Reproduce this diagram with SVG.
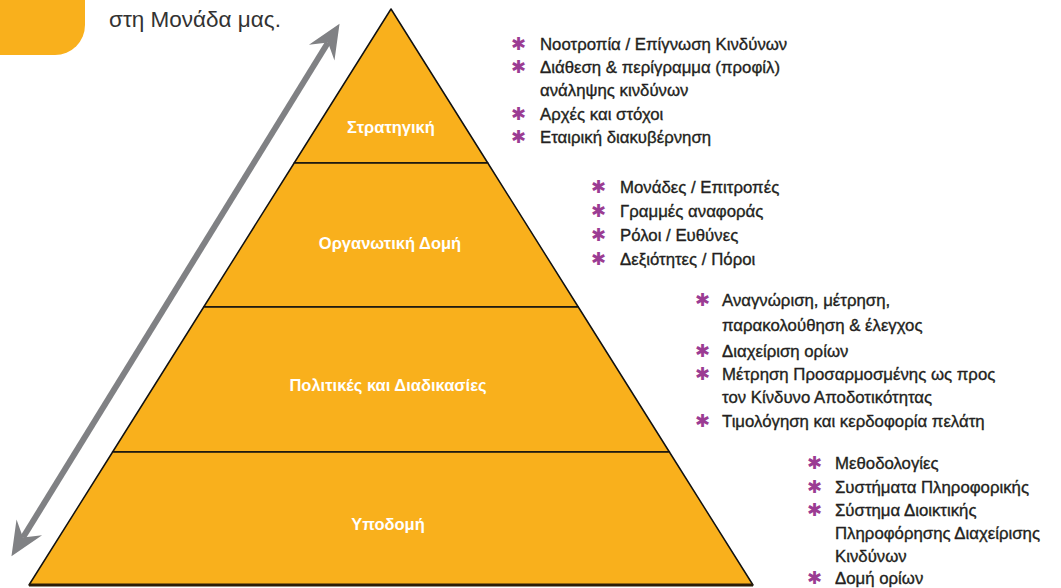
<svg xmlns="http://www.w3.org/2000/svg" width="1061" height="588" viewBox="0 0 1061 588">
<style>
.lvl{fill:#F9B01C;stroke:#111;stroke-width:1.5;stroke-linejoin:round}
.lbl{font-family:"Liberation Sans",Arial,sans-serif;font-weight:bold;font-size:16.5px;fill:#fff;text-anchor:middle}
.itm{font-family:"Liberation Sans",Arial,sans-serif;font-size:16.8px;fill:#231F20;stroke:#231F20;stroke-width:0.35}
.ast{font-family:"DejaVu Sans",sans-serif;font-size:18px;font-weight:bold;fill:#9B3C93}
.intro{font-family:"Liberation Sans",Arial,sans-serif;font-size:22.5px;fill:#333}
</style>
<defs>
<marker id="head" markerUnits="userSpaceOnUse" viewBox="-13 -16 36 32" refX="0" refY="0" markerWidth="36" markerHeight="32" orient="auto-start-reverse">
<path d="M-12,-15 L22,0 L-12,15 L0,0 Z" fill="#808184"/>
</marker>
</defs>
<rect width="1061" height="588" fill="#fff"/>
<path id="corner" d="M0,0 H85 V25 A30,30 0 0 1 55,55 H0 Z" fill="#F9B01C"/>
<text class="intro" x="109" y="27">στη Μονάδα μας.</text>
<g id="pyramid">
<g id="level-strategy"><polygon class="lvl" points="391,9 487.8,163 294.2,163"/><text class="lbl" x="391" y="133">Στρατηγική</text></g>
<g id="level-org"><polygon class="lvl" points="294.2,163 487.8,163 578.3,307 203.7,307"/><text class="lbl" x="390" y="249">Οργανωτική Δομή</text></g>
<g id="level-policy"><polygon class="lvl" points="203.7,307 578.3,307 669.4,452 112.6,452"/><text class="lbl" x="388" y="391">Πολιτικές και Διαδικασίες</text></g>
<g id="level-infra"><polygon class="lvl" points="112.6,452 669.4,452 753,585 29,585"/><text class="lbl" x="388" y="530">Υποδομή</text>
<line x1="29" y1="585" x2="753" y2="585" stroke="#2a1c08" stroke-width="3"/></g>
</g>
<g id="connectors">
<line x1="23" y1="537.5" x2="328" y2="42.5" stroke="#808184" stroke-width="6" marker-start="url(#head)" marker-end="url(#head)"/>
</g>
<g id="list-strategy">
<text class="ast" x="511" y="50">✱</text><text class="itm" x="540" y="50">Νοοτροπία / Επίγνωση Κινδύνων</text>
<text class="ast" x="511" y="73">✱</text><text class="itm" x="540" y="73">Διάθεση &amp; περίγραμμα (προφίλ)</text>
<text class="itm" x="540" y="96">ανάληψης κινδύνων</text>
<text class="ast" x="511" y="120">✱</text><text class="itm" x="540" y="120">Αρχές και στόχοι</text>
<text class="ast" x="511" y="143">✱</text><text class="itm" x="540" y="143">Εταιρική διακυβέρνηση</text>
</g>
<g id="list-org">
<text class="ast" x="591" y="193">✱</text><text class="itm" x="620" y="193">Μονάδες / Επιτροπές</text>
<text class="ast" x="591" y="217">✱</text><text class="itm" x="620" y="217">Γραμμές αναφοράς</text>
<text class="ast" x="591" y="241">✱</text><text class="itm" x="620" y="241">Ρόλοι / Ευθύνες</text>
<text class="ast" x="591" y="265">✱</text><text class="itm" x="620" y="265">Δεξιότητες / Πόροι</text>
</g>
<g id="list-policy">
<text class="ast" x="695" y="306">✱</text><text class="itm" x="722" y="306">Αναγνώριση, μέτρηση,</text>
<text class="itm" x="722" y="331">παρακολούθηση &amp; έλεγχος</text>
<text class="ast" x="695" y="357">✱</text><text class="itm" x="722" y="357">Διαχείριση ορίων</text>
<text class="ast" x="695" y="380">✱</text><text class="itm" x="722" y="380">Μέτρηση Προσαρμοσμένης ως προς</text>
<text class="itm" x="722" y="403">τον Κίνδυνο Αποδοτικότητας</text>
<text class="ast" x="695" y="427">✱</text><text class="itm" x="722" y="427">Τιμολόγηση και κερδοφορία πελάτη</text>
</g>
<g id="list-infra">
<text class="ast" x="807" y="469">✱</text><text class="itm" x="835" y="469">Μεθοδολογίες</text>
<text class="ast" x="807" y="493">✱</text><text class="itm" x="835" y="493">Συστήματα Πληροφορικής</text>
<text class="ast" x="807" y="516">✱</text><text class="itm" x="835" y="516">Σύστημα Διοικτικής</text>
<text class="itm" x="835" y="539">Πληροφόρησης Διαχείρισης</text>
<text class="itm" x="835" y="562">Κινδύνων</text>
<text class="ast" x="807" y="584">✱</text><text class="itm" x="835" y="584">Δομή ορίων</text>
</g>
</svg>
